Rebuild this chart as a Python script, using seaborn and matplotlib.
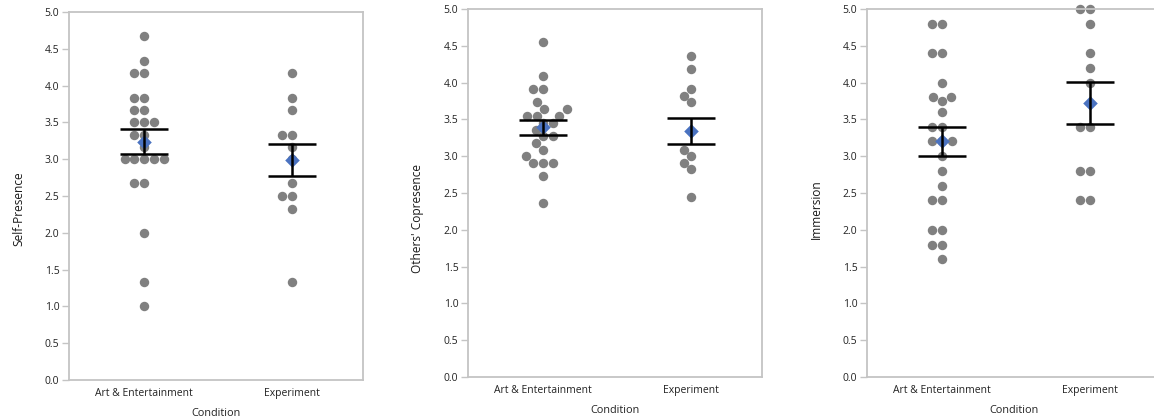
import numpy as np
import pandas as pd
import matplotlib
matplotlib.use("Agg")
import matplotlib.pyplot as plt
import seaborn as sns

# categories
conditions = ["Art & Entertainment", "Experiment"]

# individual scores
self_art = [4.67, 4.33, 4.17, 4.17, 3.83, 3.83, 3.67, 3.67, 3.5, 3.5, 3.5, 3.33,
            3.33, 3.17, 3.0, 3.0, 3.0, 3.0, 3.0, 2.67, 2.67, 2.0, 1.33, 1.0]
self_exp = [4.17, 3.83, 3.67, 3.33, 3.33, 3.17, 3.0, 2.67, 2.5, 2.5, 2.33, 1.33]

cop_art = [4.55, 4.09, 3.91, 3.91, 3.73, 3.64, 3.64, 3.55, 3.55, 3.55, 3.45, 3.45,
           3.36, 3.27, 3.27, 3.18, 3.09, 3.0, 2.91, 2.91, 2.91, 2.73, 2.36]
cop_exp = [4.36, 4.18, 3.91, 3.82, 3.73, 3.09, 3.0, 2.91, 2.82, 2.45]

imm_art = [4.8, 4.8, 4.4, 4.4, 4.0, 3.8, 3.8, 3.75, 3.6, 3.4, 3.4, 3.2, 3.2, 3.2,
           3.0, 2.8, 2.6, 2.4, 2.4, 2.0, 2.0, 1.8, 1.8, 1.6]
imm_exp = [5.0, 5.0, 4.8, 4.4, 4.2, 4.0, 3.4, 3.4, 2.8, 2.8, 2.4, 2.4]

# group means and standard errors
self_means = [3.24, 2.99]
self_sems = [0.17, 0.22]
cop_means = [3.39, 3.34]
cop_sems = [0.10, 0.18]
imm_means = [3.20, 3.72]
imm_sems = [0.20, 0.285]

y_labels = ["Self-Presence", "Others' Copresence", "Immersion"]
y_ticks = [0.0, 0.5, 1.0, 1.5, 2.0, 2.5, 3.0, 3.5, 4.0, 4.5, 5.0]

sns.set_theme(style="white")
plt.rcParams["font.family"] = ["Open Sans", "DejaVu Sans"]

fig = plt.figure(figsize=(11.54, 4.19), dpi=100)
positions = [
    [69 / 1154, 39 / 419, 294 / 1154, 368 / 419],
    [468 / 1154, 42 / 419, 294 / 1154, 368 / 419],
    [867 / 1154, 42 / 419, 294 / 1154, 368 / 419],
]
label_y = [0.465, 0.43, 0.457]

panels = [
    (self_art, self_exp, self_means, self_sems),
    (cop_art, cop_exp, cop_means, cop_sems),
    (imm_art, imm_exp, imm_means, imm_sems),
]

spine_col = "#c4c4c4"
dot_col = "#808080"
mean_col = "#4a72c0"

for i, (art, exp, means, sems) in enumerate(panels):
    ax = fig.add_axes(positions[i])
    df = pd.DataFrame({
        "Condition": [conditions[0]] * len(art) + [conditions[1]] * len(exp),
        "score": art + exp,
    })
    sns.swarmplot(data=df, x="Condition", y="score", order=conditions,
                  color=dot_col, size=6.8, linewidth=0, ax=ax, zorder=2)
    for c in ax.collections:
        c.set_clip_on(False)

    mdf = pd.DataFrame({"Condition": conditions, "mean": means, "sem": sems})
    ax.scatter(mdf["Condition"], mdf["mean"], marker="D", s=55, color=mean_col,
               zorder=3, linewidths=0)
    ax.errorbar(mdf["Condition"], mdf["mean"], yerr=mdf["sem"], fmt="none",
                ecolor="black", elinewidth=1.8, capsize=17, capthick=1.8,
                zorder=4)

    ax.set_xlim(-0.51, 1.48)
    ax.set_ylim(0, 5)
    ax.set_yticks(y_ticks)
    ax.set_yticklabels([f"{t:.1f}" for t in y_ticks])
    ax.set_ylabel(y_labels[i], fontsize=8.6, color="#1a1a1a")
    ax.yaxis.set_label_coords(-0.15, label_y[i])
    ax.set_xlabel("Condition", fontsize=7.8, color="#222222", labelpad=6)
    ax.tick_params(axis="y", which="both", left=True, length=5, width=1,
                   color=spine_col, labelsize=7.5, labelcolor="#222222", pad=2)
    ax.tick_params(axis="x", bottom=False, labelsize=7.5, labelcolor="#222222",
                   pad=0)
    for s in ax.spines.values():
        s.set_color(spine_col)
        s.set_linewidth(1.3)
        s.set_visible(True)

fig.savefig("out.png", dpi=100)
